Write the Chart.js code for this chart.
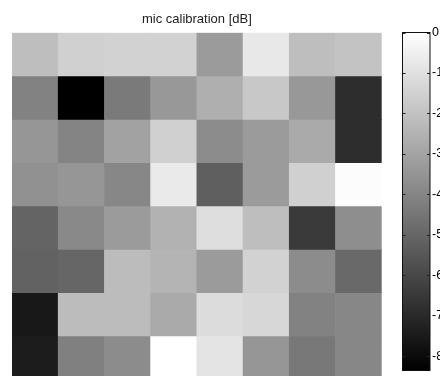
<!DOCTYPE html>
<html>
<head>
<meta charset="utf-8">
<script src="https://cdn.jsdelivr.net/npm/chart.js@4/dist/chart.umd.min.js"></script>
<style>
  html, body { margin: 0; padding: 0; background: #fff; overflow: hidden; }
  #mapa { position: absolute; left: 0; top: 0; }
  #barra { position: absolute; left: 395px; top: 0; }
</style>
</head>
<body>
<div id="mapa" style="width:394px;height:380px"><canvas id="graficoMapa"></canvas></div>
<div id="barra" style="width:60px;height:380px"><canvas id="graficoBarra"></canvas></div>
<script>
// valores em dB (linha 1 = topo)
const colunas = ['1', '2', '3', '4', '5', '6', '7', '8'];
const linha1 = [-2.13, -1.54, -1.47, -1.47, -3.27, -0.75, -2.13, -1.96];
const linha2 = [-4.09, -8.35, -4.36, -3.37, -2.62, -1.80, -3.37, -6.88];
const linha3 = [-3.44, -4.03, -3.05, -1.54, -3.77, -3.27, -2.78, -6.88];
const linha4 = [-3.60, -3.44, -3.93, -0.69, -5.24, -3.27, -1.54, -0.10];
const linha5 = [-5.08, -3.86, -3.27, -2.52, -1.08, -2.13, -6.45, -3.70];
const linha6 = [-5.14, -5.01, -2.19, -2.46, -3.27, -1.47, -3.77, -4.91];
const linha7 = [-7.56, -2.19, -2.19, -2.78, -1.15, -1.31, -4.09, -3.93];
const linha8 = [-7.43, -4.16, -3.77, 0.00, -0.88, -3.44, -4.42, -3.93];
const linhas = [linha1, linha2, linha3, linha4, linha5, linha6, linha7, linha8];

const escalaMin = -8.35;
const escalaMax = 0;
const ticksBarra = [0, -1, -2, -3, -4, -5, -6, -7, -8];

const fonte = '"Liberation Sans", Arial, sans-serif';

// mapa de cores cinza (preto = min, branco = max)
function cinza(v) {
  const t = Math.max(0, Math.min(1, (v - escalaMin) / (escalaMax - escalaMin)));
  const g = Math.round(t * 255);
  return `rgb(${g},${g},${g})`;
}

const datasetsMapa = linhas.map((linha, r) => ({
  data: linha.map((v, c) => ({ x: colunas[c], y: [r, r + 1] })),
  backgroundColor: linha.map(cinza),
  borderWidth: 0,
  barPercentage: 1,
  categoryPercentage: 1,
  grouped: false
}));

new Chart(document.getElementById('graficoMapa'), {
  type: 'bar',
  data: { labels: colunas, datasets: datasetsMapa },
  options: {
    responsive: true,
    maintainAspectRatio: false,
    animation: false,
    layout: { padding: { left: 12, right: 12.3, top: 0, bottom: 0.7 } },
    plugins: {
      legend: { display: false },
      tooltip: { enabled: false },
      title: {
        display: true,
        text: 'mic calibration [dB]',
        color: '#222',
        font: { family: fonte, size: 13, weight: 'normal', lineHeight: 1.2 },
        padding: { top: 12, bottom: 5.1 }
      }
    },
    scales: {
      x: { type: 'category', display: false, offset: true },
      y: { type: 'linear', display: false, min: 0, max: linhas.length, reverse: true }
    }
  }
});

// moldura e tracinhos da barra de cores
const molduraBarra = {
  id: 'molduraBarra',
  afterDraw(chart) {
    const { ctx, chartArea: a } = chart;
    const y = chart.scales.y;
    ctx.save();
    ctx.strokeStyle = '#111';
    ctx.lineWidth = 1;
    ctx.strokeRect(a.left, a.top, a.right - a.left, a.bottom - a.top);
    ctx.strokeStyle = '#222';
    y.ticks.forEach(t => {
      const py = Math.round(y.getPixelForValue(t.value)) + 0.5;
      ctx.beginPath();
      ctx.moveTo(a.left, py); ctx.lineTo(a.left + 3, py);
      ctx.moveTo(a.right - 3, py); ctx.lineTo(a.right, py);
      ctx.stroke();
    });
    ctx.restore();
  }
};

new Chart(document.getElementById('graficoBarra'), {
  type: 'bar',
  data: {
    labels: [''],
    datasets: [{
      data: [[escalaMin, escalaMax]],
      borderWidth: 0,
      barPercentage: 1,
      categoryPercentage: 1,
      backgroundColor: (c) => {
        const chart = c.chart;
        if (!chart.chartArea) return '#888';
        const y = chart.scales.y;
        const g = chart.ctx.createLinearGradient(0, y.getPixelForValue(escalaMax), 0, y.getPixelForValue(escalaMin));
        g.addColorStop(0, cinza(escalaMax));
        g.addColorStop(1, cinza(escalaMin));
        return g;
      }
    }]
  },
  options: {
    responsive: true,
    maintainAspectRatio: false,
    animation: false,
    layout: { padding: { left: 7.5, right: 5, top: 32.5, bottom: 0.7 } },
    plugins: { legend: { display: false }, tooltip: { enabled: false } },
    scales: {
      x: { display: false, offset: true },
      y: {
        type: 'linear',
        position: 'right',
        min: escalaMin,
        max: escalaMax,
        afterBuildTicks: (s) => { s.ticks = ticksBarra.map(v => ({ value: v })); },
        afterFit: (s) => { s.width = 20; },
        grid: { display: false, drawTicks: false },
        border: { display: false },
        ticks: { color: '#000', padding: 2, font: { family: fonte, size: 12.5 } }
      }
    }
  },
  plugins: [molduraBarra]
});
</script>
</body>
</html>
